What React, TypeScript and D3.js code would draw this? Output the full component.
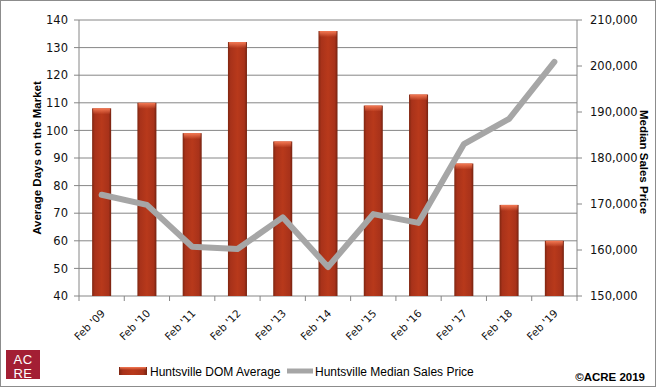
import React from "react"
import * as d3 from "d3"

// chart values
const categories = ["Feb '09", "Feb '10", "Feb '11", "Feb '12", "Feb '13", "Feb '14", "Feb '15", "Feb '16", "Feb '17", "Feb '18", "Feb '19"]
const domAverage = [108, 110, 99, 132, 96, 136, 109, 113, 88, 73, 60]
const medianPrice = [172000, 169800, 160700, 160200, 167100, 156300, 167800, 165900, 183000, 188500, 200900]
const leftTicks = [40, 50, 60, 70, 80, 90, 100, 110, 120, 130, 140]
const rightTicks = [150000, 160000, 170000, 180000, 190000, 200000, 210000]

const W = 656
const H = 387
const M = { left: 79, right: 577, top: 20, bottom: 296 }
const GRID = "#868686"
const TICK_FONT = "'DejaVu Sans', sans-serif"
const SANS = "'Liberation Sans', sans-serif"

export default function App() {
  const x = d3.scaleBand<string>()
    .domain(categories)
    .range([M.left, M.right])
    .paddingInner(0.58)
    .paddingOuter(0.29)
  const yL = d3.scaleLinear().domain([40, 140]).range([M.bottom, M.top])
  const yR = d3.scaleLinear().domain([150000, 210000]).range([M.bottom, M.top])
  const bw = x.bandwidth()
  const step = x.step()
  const center = (c: string) => (x(c) as number) + bw / 2

  const line = d3.line<number>()
    .x((_, i) => center(categories[i]))
    .y(d => yR(d))

  const fmt = d3.format(",")
  const boundaries = d3.range(categories.length + 1).map(i => M.left + i * step)

  return (
    <svg width={W} height={H} style={{ position: "absolute", left: 0, top: 0, background: "#fff" }}>
      <defs>
        <linearGradient id="barGrad" x1="0" x2="1" y1="0" y2="0">
          <stop offset="0%" stopColor="#7e2611" />
          <stop offset="14%" stopColor="#a8321a" />
          <stop offset="50%" stopColor="#b8391b" />
          <stop offset="86%" stopColor="#a8321a" />
          <stop offset="100%" stopColor="#742210" />
        </linearGradient>
        <linearGradient id="capGrad" x1="0" x2="0" y1="0" y2="1">
          <stop offset="0%" stopColor="#f47a55" />
          <stop offset="100%" stopColor="#f47a55" stopOpacity="0" />
        </linearGradient>
      </defs>

      <rect x={0.5} y={0.5} width={W - 1} height={H - 1} fill="#fff" stroke="#8c8c8c" />

      {/* gridlines */}
      {leftTicks.map(t => (
        <line key={t} x1={M.left} x2={M.right} y1={yL(t)} y2={yL(t)} stroke={GRID} />
      ))}

      {/* axes */}
      <line x1={M.left} x2={M.left} y1={M.top} y2={M.bottom} stroke={GRID} />
      <line x1={M.right} x2={M.right} y1={M.top} y2={M.bottom} stroke={GRID} />
      {leftTicks.map(t => (
        <g key={"l" + t}>
          <line x1={M.left - 5} x2={M.left} y1={yL(t)} y2={yL(t)} stroke={GRID} />
          <text x={M.left - 11} y={yL(t)} dy="0.36em" textAnchor="end" fontSize={11.5} fontFamily={TICK_FONT} fill="#111">{t}</text>
        </g>
      ))}
      {rightTicks.map(t => (
        <g key={"r" + t}>
          <line x1={M.right} x2={M.right + 5} y1={yR(t)} y2={yR(t)} stroke={GRID} />
          <text x={M.right + 13} y={yR(t)} dy="0.36em" textAnchor="start" fontSize={11.5} fontFamily={TICK_FONT} fill="#111">{fmt(t)}</text>
        </g>
      ))}
      {boundaries.map((b, i) => (
        <line key={"b" + i} x1={b} x2={b} y1={M.bottom} y2={M.bottom + 5} stroke={GRID} />
      ))}
      {categories.map(c => (
        <text key={c} transform={`translate(${center(c) + 4},${M.bottom + 18}) rotate(-45)`} textAnchor="end"
          fontSize={10.5} fontFamily={TICK_FONT} fill="#111">{c}</text>
      ))}

      {/* bars */}
      {categories.map((c, i) => {
        const top = yL(domAverage[i])
        return (
          <g key={"bar" + c}>
            <rect x={x(c)} y={top} width={bw} height={M.bottom - top} fill="url(#barGrad)" />
            <rect x={(x(c) as number) + 1} y={top} width={bw - 2} height={6} fill="url(#capGrad)" />
          </g>
        )
      })}

      {/* median price line */}
      <path d={line(medianPrice) || ""} fill="none" stroke="#a6a6a6" strokeWidth={6} strokeLinejoin="round" strokeLinecap="round" />

      {/* axis titles */}
      <text transform={`translate(41,${(M.top + M.bottom) / 2}) rotate(-90)`} textAnchor="middle"
        fontSize={11.5} fontWeight="bold" fontFamily={SANS} fill="#000">Average Days on the Market</text>
      <text transform={`translate(640,162) rotate(90)`} textAnchor="middle"
        fontSize={11.5} fontWeight="bold" fontFamily={SANS} fill="#000">Median Sales Price</text>

      {/* legend */}
      <rect x={119} y={367} width={28} height={8} fill="url(#barGrad)" />
      <rect x={120} y={367} width={26} height={3} fill="url(#capGrad)" />
      <text x={150} y={376} fontSize={12} fontFamily={SANS} fill="#000">Huntsville DOM Average</text>
      <line x1={287} x2={313} y1={371} y2={371} stroke="#a6a6a6" strokeWidth={5} />
      <text x={315} y={376} fontSize={12} fontFamily={SANS} fill="#000">Huntsville Median Sales Price</text>

      {/* footer */}
      <text x={645} y={381} textAnchor="end" fontSize={11.5} fontWeight="bold" fontFamily={SANS} fill="#000">©ACRE 2019</text>
      <rect x={6} y={350} width={34} height={29} fill="#a31f34" />
      <text x={23} y={363.5} textAnchor="middle" fontSize={13} fontFamily={SANS} fill="#fff" letterSpacing={0.5}>AC</text>
      <text x={23} y={377.5} textAnchor="middle" fontSize={13} fontFamily={SANS} fill="#fff" letterSpacing={0.5}>RE</text>
    </svg>
  )
}
